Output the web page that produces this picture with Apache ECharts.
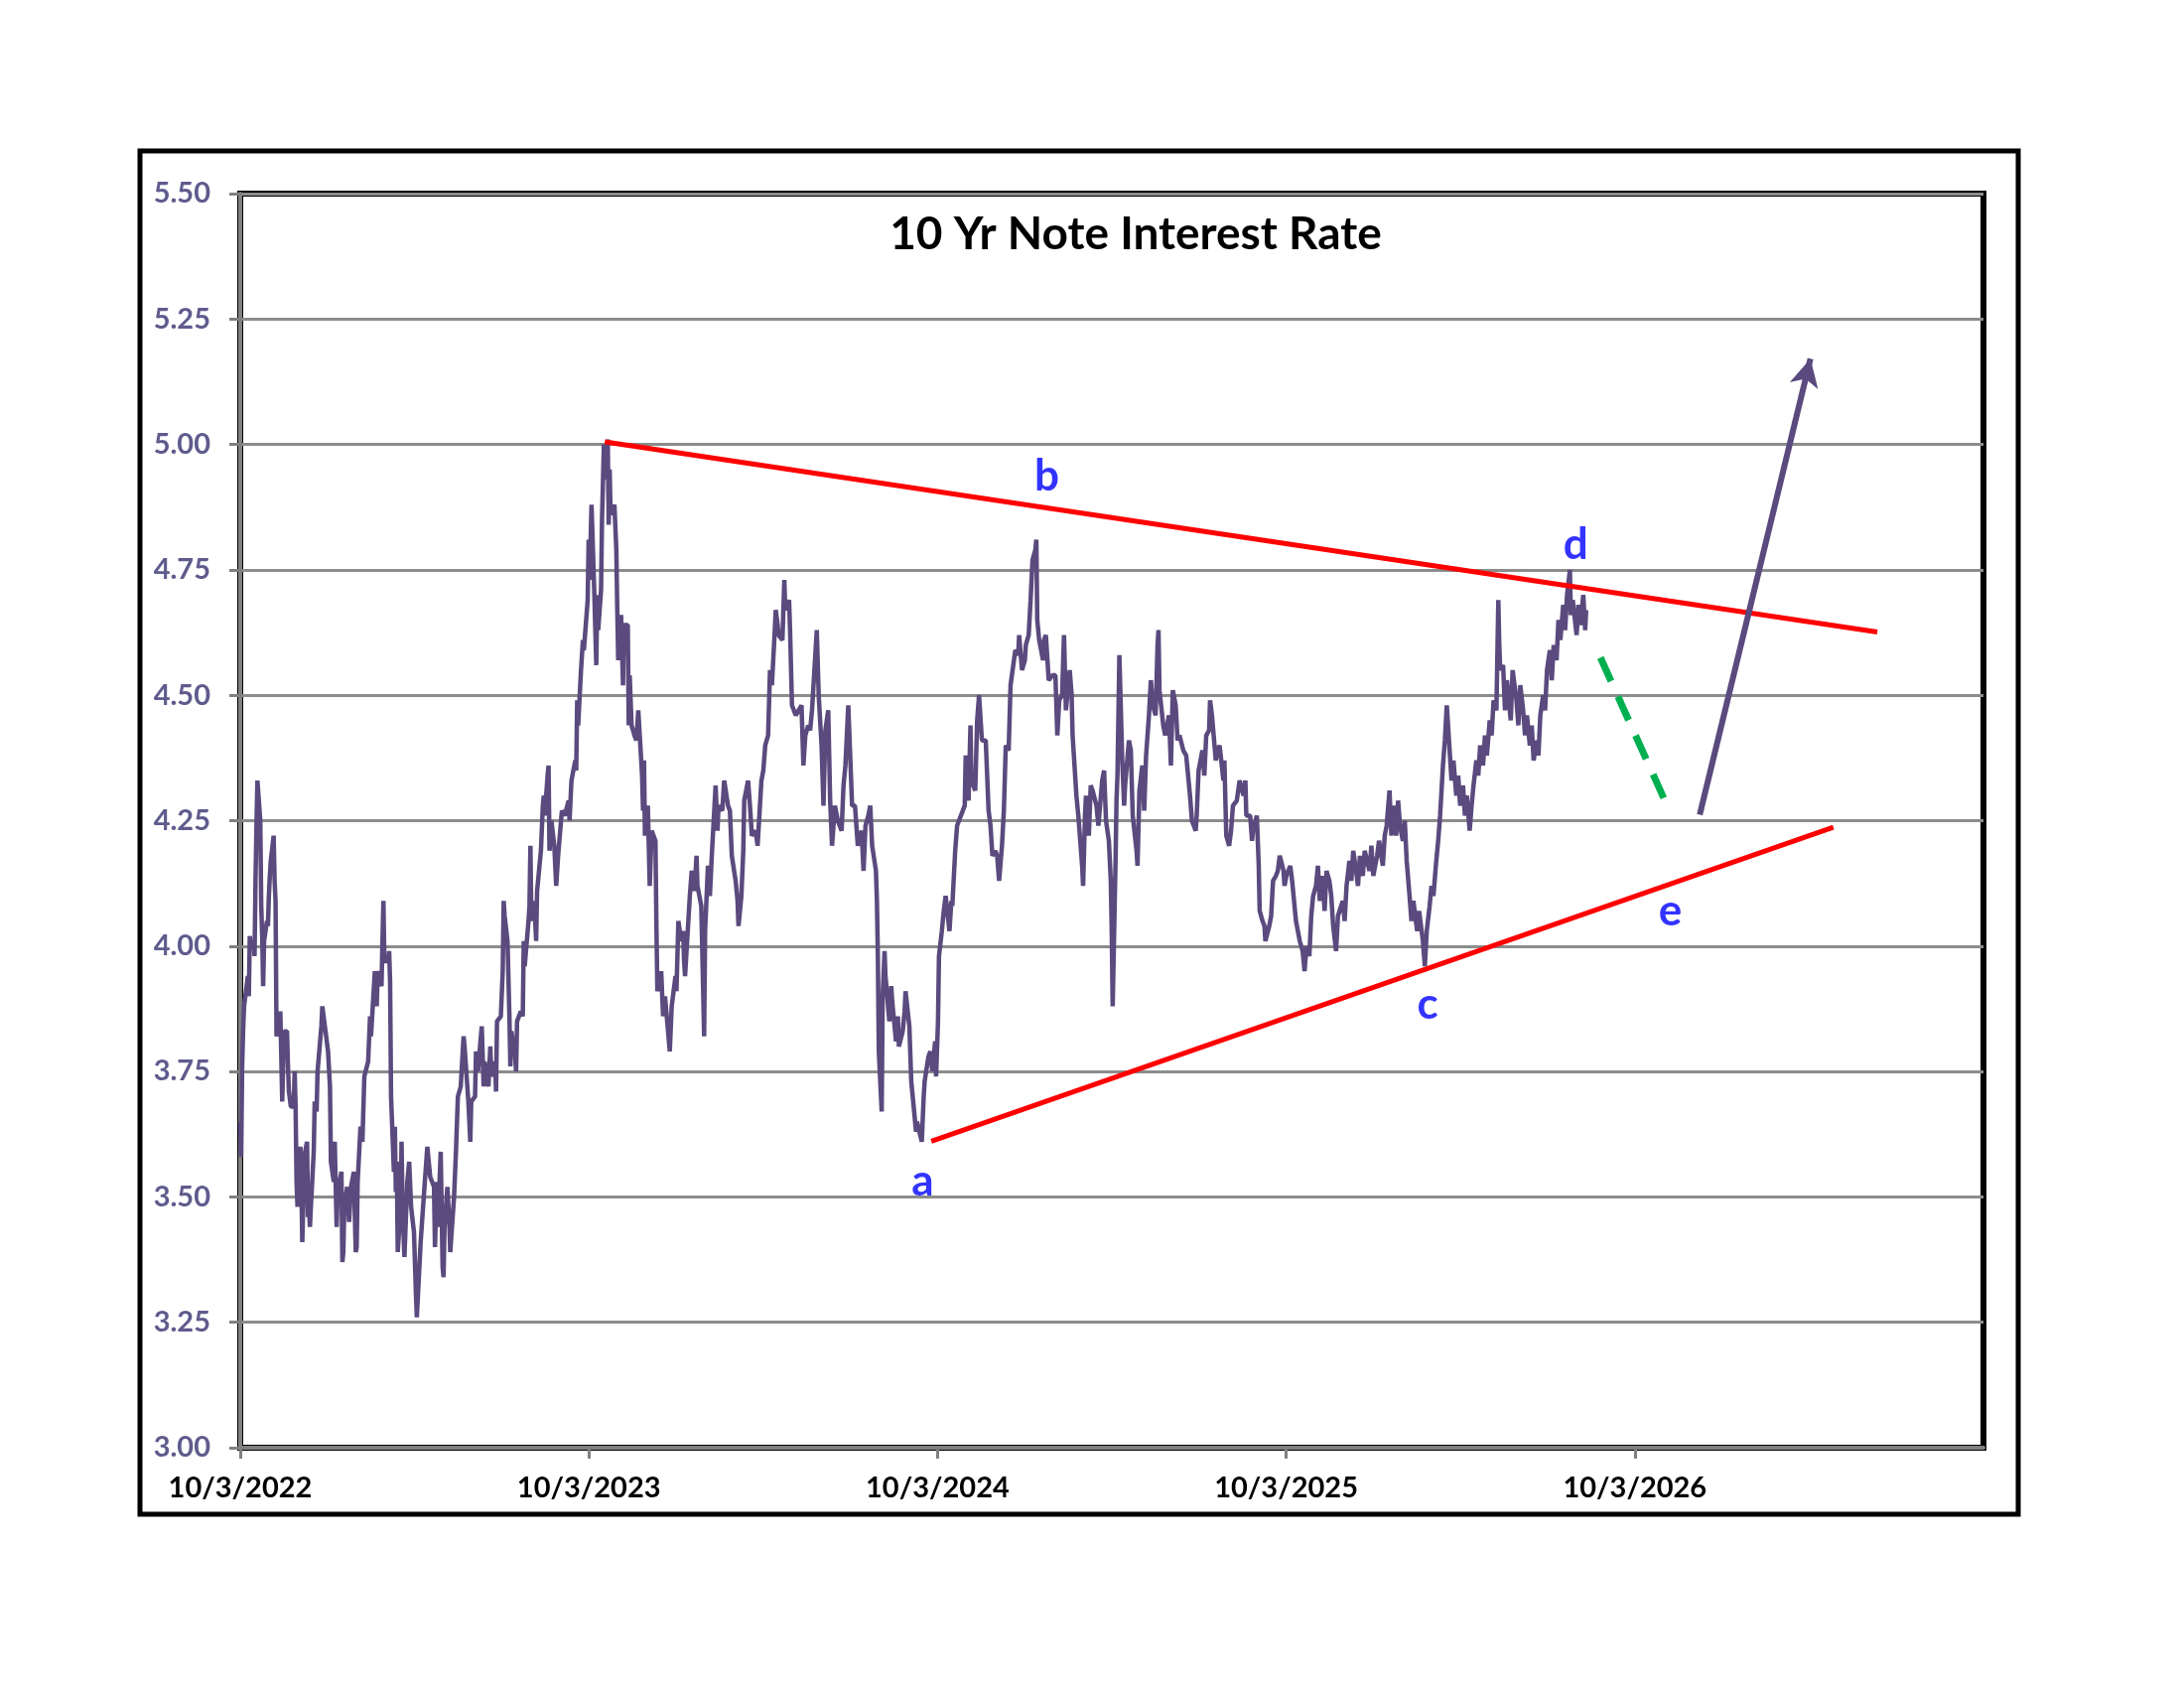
<!DOCTYPE html>
<html>
<head>
<meta charset="utf-8">
<title>10 Yr Note Interest Rate</title>
<script src="https://cdn.jsdelivr.net/npm/echarts@6.0.0/dist/echarts.min.js"></script>
<style>
  html, body { margin: 0; padding: 0; background: #fff; }
  #main { width: 2200px; height: 1700px; }
</style>
</head>
<body>
<div id="main"></div>
<script>
// axis ticks (one per year from 10/3/2022)
const xTickLabels = ["10/3/2022", "10/3/2023", "10/3/2024", "10/3/2025", "10/3/2026"];
const yMin = 3.0, yMax = 5.5, yStep = 0.25;

// 10 yr yield
const rates2022 = [
  ["2022-10-03",3.65],["2022-10-04",3.58],["2022-10-05",3.76],["2022-10-06",3.83],["2022-10-07",3.88],
  ["2022-10-11",3.94],["2022-10-12",3.90],["2022-10-13",4.02],["2022-10-14",4.00],["2022-10-17",4.01],
  ["2022-10-18",3.98],["2022-10-19",4.13],["2022-10-20",4.24],["2022-10-21",4.33],["2022-10-24",4.25],
  ["2022-10-25",4.08],["2022-10-26",4.02],["2022-10-27",3.92],["2022-10-28",4.01],["2022-10-31",4.05],
  ["2022-11-01",4.04],["2022-11-02",4.10],["2022-11-03",4.14],["2022-11-04",4.17],["2022-11-07",4.22],
  ["2022-11-08",4.13],["2022-11-09",4.09],["2022-11-10",3.82],["2022-11-14",3.87],["2022-11-15",3.78],
  ["2022-11-16",3.69],["2022-11-17",3.77],["2022-11-18",3.83],["2022-11-21",3.83],["2022-11-22",3.76],
  ["2022-11-23",3.71],["2022-11-25",3.68],["2022-11-28",3.68],["2022-11-29",3.75],["2022-11-30",3.68],
  ["2022-12-01",3.53],["2022-12-02",3.48],["2022-12-05",3.60],["2022-12-06",3.53],["2022-12-07",3.41],
  ["2022-12-08",3.48],["2022-12-09",3.58],["2022-12-12",3.61],["2022-12-13",3.46],["2022-12-14",3.48],
  ["2022-12-15",3.44],["2022-12-16",3.48],["2022-12-19",3.59],["2022-12-20",3.69],["2022-12-21",3.68],
  ["2022-12-22",3.67],["2022-12-23",3.75],["2022-12-27",3.84],["2022-12-28",3.88],["2022-12-30",3.88]
];
const rates2023 = [
  ["2023-01-03",3.79],["2023-01-05",3.72],["2023-01-06",3.57],["2023-01-09",3.53],["2023-01-10",3.61],
  ["2023-01-12",3.44],["2023-01-13",3.51],["2023-01-17",3.55],["2023-01-18",3.37],["2023-01-19",3.39],
  ["2023-01-20",3.48],["2023-01-23",3.52],["2023-01-25",3.45],["2023-01-27",3.52],["2023-01-30",3.55],
  ["2023-02-01",3.39],["2023-02-02",3.40],["2023-02-03",3.53],["2023-02-06",3.64],["2023-02-08",3.61],
  ["2023-02-10",3.74],["2023-02-14",3.77],["2023-02-16",3.86],["2023-02-17",3.82],["2023-02-21",3.95],
  ["2023-02-23",3.88],["2023-02-24",3.95],["2023-02-28",3.92],["2023-03-01",4.01],["2023-03-02",4.09],
  ["2023-03-03",3.97],["2023-03-07",3.97],["2023-03-08",3.99],["2023-03-09",3.93],["2023-03-10",3.70],
  ["2023-03-13",3.55],["2023-03-14",3.64],["2023-03-15",3.51],["2023-03-16",3.57],["2023-03-17",3.39],
  ["2023-03-20",3.48],["2023-03-21",3.61],["2023-03-22",3.48],["2023-03-24",3.38],["2023-03-27",3.53],
  ["2023-03-29",3.57],["2023-03-31",3.48],["2023-04-03",3.43],["2023-04-05",3.31],["2023-04-06",3.26],
  ["2023-04-10",3.41],["2023-04-12",3.41],["2023-04-14",3.52],["2023-04-17",3.60],["2023-04-19",3.60],
  ["2023-04-20",3.54],["2023-04-24",3.52],["2023-04-25",3.40],["2023-04-27",3.53],["2023-04-28",3.44],
  ["2023-05-01",3.59],["2023-05-03",3.36],["2023-05-04",3.34],["2023-05-05",3.44],["2023-05-08",3.52],
  ["2023-05-10",3.45],["2023-05-11",3.39],["2023-05-15",3.50],["2023-05-17",3.59],["2023-05-19",3.70],
  ["2023-05-22",3.72],["2023-05-25",3.82],["2023-05-26",3.80],["2023-05-30",3.69],["2023-06-01",3.61],
  ["2023-06-02",3.69],["2023-06-06",3.70],["2023-06-07",3.79],["2023-06-09",3.75],["2023-06-13",3.84],
  ["2023-06-15",3.72],["2023-06-16",3.77],["2023-06-20",3.72],["2023-06-22",3.80],["2023-06-23",3.74],
  ["2023-06-27",3.77],["2023-06-28",3.71],["2023-06-29",3.85],["2023-07-03",3.86],["2023-07-05",3.95],
  ["2023-07-06",4.09],["2023-07-07",4.06],["2023-07-10",4.01],["2023-07-12",3.86],["2023-07-13",3.76],
  ["2023-07-14",3.83],["2023-07-18",3.78],["2023-07-19",3.75],["2023-07-20",3.85],["2023-07-24",3.87],
  ["2023-07-26",3.86],["2023-07-27",4.01],["2023-07-28",3.96],["2023-08-01",4.05],["2023-08-02",4.08],
  ["2023-08-03",4.20],["2023-08-04",4.05],["2023-08-07",4.09],["2023-08-09",4.01],["2023-08-10",4.11],
  ["2023-08-14",4.19],["2023-08-16",4.28],["2023-08-17",4.30],["2023-08-18",4.26],["2023-08-21",4.34],
  ["2023-08-22",4.36],["2023-08-23",4.19],["2023-08-25",4.25],["2023-08-28",4.20],["2023-08-30",4.12],
  ["2023-09-01",4.18],["2023-09-05",4.27],["2023-09-07",4.27],["2023-09-08",4.26],["2023-09-12",4.29],
  ["2023-09-13",4.25],["2023-09-15",4.33],["2023-09-19",4.37],["2023-09-20",4.35],["2023-09-21",4.49],
  ["2023-09-22",4.44],["2023-09-25",4.55],["2023-09-27",4.61],["2023-09-28",4.59],["2023-10-02",4.69],
  ["2023-10-03",4.81],["2023-10-04",4.73],["2023-10-06",4.88],["2023-10-09",4.70],["2023-10-11",4.56],
  ["2023-10-12",4.70],["2023-10-13",4.63],["2023-10-16",4.71],["2023-10-17",4.85],["2023-10-19",5.00],
  ["2023-10-20",4.93],["2023-10-23",5.01],["2023-10-24",4.84],["2023-10-25",4.95],["2023-10-26",4.86],
  ["2023-10-30",4.88],["2023-10-31",4.88],["2023-11-01",4.79],["2023-11-02",4.67],["2023-11-03",4.57],
  ["2023-11-06",4.66],["2023-11-08",4.52],["2023-11-09",4.64],["2023-11-13",4.64],["2023-11-14",4.44],
  ["2023-11-15",4.54],["2023-11-17",4.44],["2023-11-20",4.42],["2023-11-22",4.41],["2023-11-24",4.47],
  ["2023-11-28",4.34],["2023-11-29",4.27],["2023-11-30",4.37],["2023-12-01",4.22],["2023-12-04",4.28],
  ["2023-12-06",4.12],["2023-12-08",4.23],["2023-12-12",4.21],["2023-12-13",4.04],["2023-12-14",3.91],
  ["2023-12-18",3.95],["2023-12-20",3.86],["2023-12-22",3.90],["2023-12-27",3.79],["2023-12-29",3.88]
];
const rates2024 = [
  ["2024-01-02",3.94],["2024-01-03",3.91],["2024-01-05",4.05],["2024-01-08",4.01],["2024-01-10",4.03],
  ["2024-01-11",3.97],["2024-01-12",3.94],["2024-01-17",4.10],["2024-01-19",4.15],["2024-01-22",4.11],
  ["2024-01-24",4.18],["2024-01-25",4.12],["2024-01-29",4.08],["2024-01-31",3.91],["2024-02-01",3.82],
  ["2024-02-02",4.03],["2024-02-05",4.16],["2024-02-07",4.10],["2024-02-09",4.18],["2024-02-13",4.32],
  ["2024-02-15",4.23],["2024-02-16",4.28],["2024-02-20",4.27],["2024-02-22",4.33],["2024-02-26",4.28],
  ["2024-02-28",4.27],["2024-03-01",4.18],["2024-03-05",4.13],["2024-03-07",4.09],["2024-03-08",4.04],
  ["2024-03-11",4.10],["2024-03-13",4.19],["2024-03-14",4.29],["2024-03-18",4.33],["2024-03-20",4.28],
  ["2024-03-22",4.22],["2024-03-26",4.23],["2024-03-28",4.20],["2024-04-01",4.33],["2024-04-03",4.35],
  ["2024-04-05",4.40],["2024-04-08",4.42],["2024-04-10",4.55],["2024-04-12",4.52],["2024-04-15",4.63],
  ["2024-04-16",4.67],["2024-04-18",4.64],["2024-04-19",4.62],["2024-04-23",4.61],["2024-04-25",4.73],
  ["2024-04-26",4.67],["2024-04-30",4.69],["2024-05-01",4.63],["2024-05-03",4.48],["2024-05-07",4.46],
  ["2024-05-09",4.46],["2024-05-13",4.48],["2024-05-15",4.36],["2024-05-17",4.42],["2024-05-20",4.44],
  ["2024-05-22",4.43],["2024-05-24",4.47],["2024-05-29",4.63],["2024-05-31",4.50],["2024-06-03",4.40],
  ["2024-06-05",4.28],["2024-06-07",4.43],["2024-06-10",4.47],["2024-06-12",4.29],["2024-06-14",4.20],
  ["2024-06-17",4.28],["2024-06-20",4.25],["2024-06-24",4.23],["2024-06-26",4.32],["2024-06-28",4.36],
  ["2024-07-01",4.48],["2024-07-02",4.43],["2024-07-05",4.28],["2024-07-08",4.28],["2024-07-10",4.28],
  ["2024-07-11",4.20],["2024-07-15",4.23],["2024-07-17",4.15],["2024-07-19",4.24],["2024-07-22",4.26],
  ["2024-07-24",4.28],["2024-07-26",4.20],["2024-07-30",4.15],["2024-07-31",4.09],["2024-08-01",3.98],
  ["2024-08-02",3.79],["2024-08-05",3.67],["2024-08-06",3.90],["2024-08-08",3.99],["2024-08-09",3.94],
  ["2024-08-13",3.85],["2024-08-15",3.92],["2024-08-16",3.89],["2024-08-20",3.81],["2024-08-22",3.86],
  ["2024-08-23",3.80],["2024-08-27",3.83],["2024-08-29",3.87],["2024-08-30",3.91],["2024-09-03",3.84],
  ["2024-09-05",3.73],["2024-09-06",3.71],["2024-09-10",3.63],["2024-09-11",3.65],["2024-09-13",3.65],
  ["2024-09-16",3.61],["2024-09-18",3.70],["2024-09-19",3.73],["2024-09-23",3.78],["2024-09-25",3.79],
  ["2024-09-27",3.75],["2024-09-30",3.81],["2024-10-01",3.74],["2024-10-03",3.85],["2024-10-04",3.98],
  ["2024-10-07",4.03],["2024-10-09",4.07],["2024-10-11",4.10],["2024-10-15",4.03],["2024-10-17",4.09],
  ["2024-10-18",4.08],["2024-10-21",4.19],["2024-10-23",4.24],["2024-10-25",4.24],["2024-10-29",4.27],
  ["2024-10-31",4.28],["2024-11-01",4.38],["2024-11-04",4.29],["2024-11-06",4.44],["2024-11-07",4.33],
  ["2024-11-11",4.31],["2024-11-13",4.45],["2024-11-15",4.50],["2024-11-18",4.41],["2024-11-20",4.41],
  ["2024-11-22",4.41],["2024-11-25",4.27],["2024-11-27",4.24],["2024-11-29",4.18],["2024-12-02",4.19],
  ["2024-12-04",4.18],["2024-12-06",4.13],["2024-12-09",4.20],["2024-12-11",4.27],["2024-12-13",4.40],
  ["2024-12-16",4.39],["2024-12-18",4.52],["2024-12-20",4.52],["2024-12-23",4.59],["2024-12-26",4.58],
  ["2024-12-27",4.62],["2024-12-30",4.55]
];
const rates2025 = [
  ["2025-01-02",4.57],["2025-01-03",4.60],["2025-01-06",4.62],["2025-01-08",4.69],["2025-01-10",4.77],
  ["2025-01-13",4.79],["2025-01-14",4.81],["2025-01-15",4.65],["2025-01-17",4.61],["2025-01-21",4.57],
  ["2025-01-22",4.61],["2025-01-24",4.62],["2025-01-27",4.53],["2025-01-29",4.53],["2025-01-31",4.54],
  ["2025-02-03",4.54],["2025-02-05",4.42],["2025-02-07",4.49],["2025-02-10",4.50],["2025-02-12",4.62],
  ["2025-02-14",4.47],["2025-02-18",4.55],["2025-02-20",4.50],["2025-02-21",4.42],["2025-02-25",4.30],
  ["2025-02-27",4.26],["2025-03-03",4.16],["2025-03-04",4.12],["2025-03-06",4.26],["2025-03-07",4.30],
  ["2025-03-10",4.22],["2025-03-12",4.32],["2025-03-14",4.31],["2025-03-18",4.28],["2025-03-20",4.24],
  ["2025-03-24",4.33],["2025-03-26",4.35],["2025-03-28",4.25],["2025-03-31",4.21],["2025-04-02",4.13],
  ["2025-04-03",4.03],["2025-04-04",3.88],["2025-04-07",4.17],["2025-04-08",4.29],["2025-04-09",4.34],
  ["2025-04-11",4.58],["2025-04-14",4.37],["2025-04-16",4.28],["2025-04-17",4.32],["2025-04-21",4.41],
  ["2025-04-23",4.39],["2025-04-25",4.26],["2025-04-29",4.19],["2025-04-30",4.16],["2025-05-02",4.31],
  ["2025-05-05",4.36],["2025-05-07",4.27],["2025-05-09",4.38],["2025-05-12",4.46],["2025-05-14",4.53],
  ["2025-05-16",4.48],["2025-05-19",4.46],["2025-05-21",4.60],["2025-05-22",4.63],["2025-05-23",4.51],
  ["2025-05-27",4.44],["2025-05-29",4.42],["2025-06-02",4.46],["2025-06-04",4.36],["2025-06-06",4.51],
  ["2025-06-09",4.48],["2025-06-11",4.41],["2025-06-13",4.42],["2025-06-17",4.39],["2025-06-20",4.38],
  ["2025-06-24",4.30],["2025-06-26",4.25],["2025-06-30",4.23],["2025-07-01",4.26],["2025-07-03",4.35],
  ["2025-07-07",4.39],["2025-07-09",4.34],["2025-07-11",4.42],["2025-07-14",4.43],["2025-07-15",4.49],
  ["2025-07-17",4.46],["2025-07-21",4.37],["2025-07-23",4.39],["2025-07-25",4.40],["2025-07-29",4.33],
  ["2025-07-30",4.37],["2025-08-01",4.22],["2025-08-04",4.20],["2025-08-06",4.23],["2025-08-08",4.28],
  ["2025-08-12",4.29],["2025-08-14",4.29],["2025-08-15",4.33],["2025-08-19",4.30],["2025-08-21",4.33],
  ["2025-08-22",4.26],["2025-08-26",4.26],["2025-08-28",4.21],["2025-08-29",4.23],["2025-09-02",4.26],
  ["2025-09-04",4.16],["2025-09-05",4.07],["2025-09-08",4.05],["2025-09-10",4.04],["2025-09-11",4.01],
  ["2025-09-15",4.04],["2025-09-17",4.06],["2025-09-19",4.13],["2025-09-22",4.14],["2025-09-24",4.15],
  ["2025-09-26",4.18],["2025-09-30",4.15],["2025-10-01",4.12],["2025-10-03",4.14],["2025-10-07",4.16],
  ["2025-10-09",4.13],["2025-10-13",4.05],["2025-10-15",4.03],["2025-10-17",4.01],["2025-10-20",3.99],
  ["2025-10-22",3.95],["2025-10-24",4.00],["2025-10-27",3.98],["2025-10-29",4.06],["2025-10-31",4.10],
  ["2025-11-03",4.12],["2025-11-05",4.16],["2025-11-07",4.09],["2025-11-10",4.14],["2025-11-12",4.07],
  ["2025-11-14",4.15],["2025-11-17",4.13],["2025-11-19",4.10],["2025-11-21",4.04],["2025-11-24",3.99],
  ["2025-11-26",4.06],["2025-12-01",4.09],["2025-12-03",4.05],["2025-12-05",4.12],["2025-12-08",4.17],
  ["2025-12-10",4.13],["2025-12-12",4.19],["2025-12-15",4.15],["2025-12-17",4.12],["2025-12-19",4.18],
  ["2025-12-22",4.14],["2025-12-24",4.19],["2025-12-29",4.15],["2025-12-31",4.20]
];
const rates2026 = [
  ["2026-01-02",4.14],["2026-01-06",4.18],["2026-01-08",4.21],["2026-01-12",4.16],["2026-01-14",4.22],
  ["2026-01-16",4.24],["2026-01-19",4.31],["2026-01-21",4.22],["2026-01-23",4.28],["2026-01-26",4.22],
  ["2026-01-28",4.29],["2026-01-30",4.24],["2026-02-02",4.21],["2026-02-04",4.25],["2026-02-06",4.17],
  ["2026-02-09",4.10],["2026-02-11",4.05],["2026-02-13",4.09],["2026-02-17",4.03],["2026-02-19",4.07],
  ["2026-02-23",4.01],["2026-02-25",3.96],["2026-02-27",4.03],["2026-03-02",4.08],["2026-03-04",4.12],
  ["2026-03-06",4.10],["2026-03-09",4.17],["2026-03-11",4.21],["2026-03-13",4.26],["2026-03-16",4.36],
  ["2026-03-18",4.41],["2026-03-20",4.48],["2026-03-23",4.39],["2026-03-25",4.33],["2026-03-27",4.37],
  ["2026-03-30",4.30],["2026-04-01",4.34],["2026-04-03",4.28],["2026-04-06",4.32],["2026-04-08",4.26],
  ["2026-04-10",4.30],["2026-04-13",4.23],["2026-04-15",4.28],["2026-04-17",4.32],["2026-04-20",4.37],
  ["2026-04-22",4.34],["2026-04-24",4.40],["2026-04-27",4.36],["2026-04-29",4.42],["2026-05-01",4.38],
  ["2026-05-04",4.45],["2026-05-06",4.42],["2026-05-08",4.49],["2026-05-11",4.47],["2026-05-13",4.69],
  ["2026-05-14",4.60],["2026-05-15",4.55],["2026-05-18",4.56],["2026-05-20",4.47],["2026-05-22",4.53],
  ["2026-05-26",4.45],["2026-05-28",4.55],["2026-06-01",4.49],["2026-06-03",4.44],["2026-06-05",4.52],
  ["2026-06-08",4.47],["2026-06-10",4.42],["2026-06-12",4.46],["2026-06-15",4.40],["2026-06-17",4.44],
  ["2026-06-19",4.37],["2026-06-22",4.41],["2026-06-24",4.38],["2026-06-26",4.46],["2026-06-29",4.50],
  ["2026-07-01",4.47],["2026-07-03",4.55],["2026-07-06",4.59],["2026-07-08",4.53],["2026-07-10",4.60],
  ["2026-07-13",4.57],["2026-07-15",4.65],["2026-07-17",4.61],["2026-07-20",4.68],["2026-07-22",4.63],
  ["2026-07-24",4.70],["2026-07-27",4.75],["2026-07-28",4.66],["2026-07-30",4.69],["2026-08-03",4.62],
  ["2026-08-05",4.68],["2026-08-07",4.64],["2026-08-10",4.70],["2026-08-12",4.63],["2026-08-13",4.67]
];

// drawn trend lines and projection
const upperLine = [["2023-10-20",5.005],["2027-06-14",4.626]];
const lowerLine = [["2024-09-26",3.611],["2027-04-29",4.237]];
const projectionDown = [["2026-08-28",4.575],["2026-11-08",4.271]];
const projectionUp = [["2026-12-10",4.262],["2027-04-05",5.171]];
const waveLabels = [
  ["2024-09-17",3.53,"a"],["2025-01-25",4.936,"b"],["2026-02-28",3.883,"c"],
  ["2026-08-02",4.80,"d"],["2026-11-09",4.069,"e"]
];

const START = Date.UTC(2022, 9, 3);
const DAY = 86400000;
const YEAR_DAYS = 365.25;
const toDay = d => (Date.parse(d) - START) / DAY;
const pts = arr => arr.map(p => [toDay(p[0]), p[1]]);
const xTickValues = xTickLabels.map((_, i) => i * YEAR_DAYS);

const FONT = "Lato, 'Open Sans', sans-serif";
const purple = "#5a4a7e";

const chart = echarts.init(document.getElementById("main"));
chart.setOption({
  animation: false,
  backgroundColor: "#ffffff",
  grid: {
    left: 242, right: 202, top: 195, bottom: 242,
    show: true, borderColor: "#000", borderWidth: 6, backgroundColor: "transparent"
  },
  graphic: [
    {
      type: "rect",
      shape: { x: 141, y: 152, width: 1892, height: 1373 },
      style: { fill: "none", stroke: "#000", lineWidth: 5 },
      z: 0, silent: true
    },
    {
      type: "text",
      x: 1144, y: 236,
      style: {
        text: "10 Yr Note Interest Rate",
        fill: "#000",
        font: "bold 46px " + FONT,
        textAlign: "center",
        textVerticalAlign: "middle"
      },
      z: 10, silent: true
    }
  ],
  xAxis: {
    type: "value",
    min: 0,
    max: 5 * YEAR_DAYS,
    interval: YEAR_DAYS,
    axisLine: { show: true, lineStyle: { color: "#808080", width: 4 } },
    axisTick: { show: true, length: 11, customValues: xTickValues, lineStyle: { color: "#808080", width: 3 } },
    splitLine: { show: false },
    axisLabel: {
      margin: 26,
      color: "#000",
      fontSize: 29,
      fontWeight: "bold",
      fontFamily: FONT,
      customValues: xTickValues,
      formatter: v => xTickLabels[Math.round(v / YEAR_DAYS)] || ""
    }
  },
  yAxis: {
    type: "value",
    min: yMin,
    max: yMax,
    interval: yStep,
    axisLine: { show: true, lineStyle: { color: "#808080", width: 4 } },
    axisTick: { show: true, length: 11, lineStyle: { color: "#808080", width: 3 } },
    splitLine: { show: true, lineStyle: { color: "#8c8c8c", width: 3 } },
    axisLabel: {
      margin: 30,
      color: "#5f5b8d",
      fontSize: 29,
      fontWeight: "bold",
      fontFamily: FONT,
      formatter: v => v.toFixed(2)
    }
  },
  series: [
    {
      name: "10 Yr",
      type: "line",
      data: pts([].concat(rates2022, rates2023, rates2024, rates2025, rates2026)),
      showSymbol: false,
      lineStyle: { color: purple, width: 4.5 },
      z: 3
    },
    {
      type: "line",
      data: pts(upperLine),
      showSymbol: false,
      lineStyle: { color: "#ff0000", width: 5 },
      z: 4
    },
    {
      type: "line",
      data: pts(lowerLine),
      showSymbol: false,
      lineStyle: { color: "#ff0000", width: 5 },
      z: 4
    },
    {
      type: "line",
      data: pts(projectionDown),
      showSymbol: false,
      lineStyle: { color: "#00b050", width: 7, type: [26, 17] },
      z: 4
    },
    {
      type: "line",
      data: [],
      markLine: {
        silent: true,
        animation: false,
        symbol: ["none", "arrow"],
        symbolSize: [22, 28],
        label: { show: false },
        lineStyle: { color: purple, width: 6, type: "solid" },
        data: [[
          { coord: pts(projectionUp)[0] },
          { coord: pts(projectionUp)[1] }
        ]]
      },
      z: 4
    },
    {
      type: "scatter",
      data: waveLabels.map(p => [toDay(p[0]), p[1], p[2]]),
      symbolSize: 0,
      label: {
        show: true,
        position: "inside",
        formatter: p => p.value[2],
        color: "#0000ff",
        fontSize: 44,
        fontWeight: "bold",
        fontFamily: FONT
      },
      z: 6
    }
  ]
});
</script>
</body>
</html>
